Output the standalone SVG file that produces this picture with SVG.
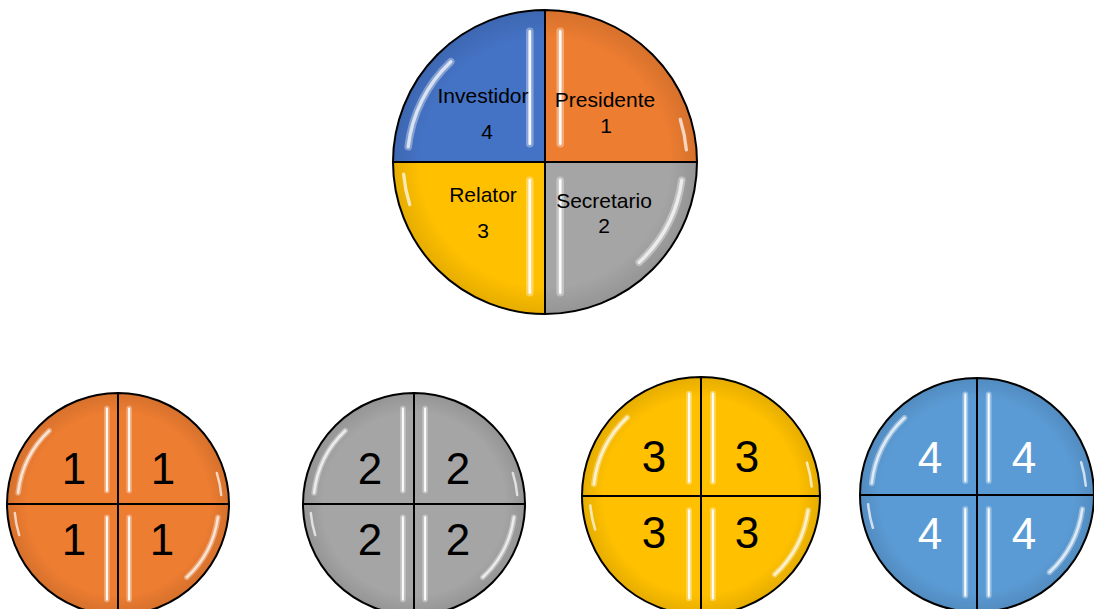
<svg xmlns="http://www.w3.org/2000/svg" width="1094" height="609" viewBox="0 0 1094 609">
<style>
.q{stroke:#000;stroke-width:2;vector-effect:non-scaling-stroke;stroke-linejoin:round}
.or{fill:#ED7D31}.gr{fill:#A5A5A5}.ye{fill:#FFC000}.bl{fill:#4472C4}.lb{fill:#5B9BD5}
.hw{fill:none;stroke:#fff;stroke-width:5;stroke-linecap:round;opacity:.35}
.hs{fill:none;stroke:#fff;stroke-width:1.8;stroke-linecap:round;opacity:.95}
.ha{fill:none;stroke:#fff;stroke-width:2.2;stroke-linecap:round;opacity:.7}
.sh{fill:url(#edge);pointer-events:none}
.lbl{font-family:"Liberation Sans",Arial,sans-serif;font-size:21px;fill:#000;text-anchor:middle}
.big{font-family:"Liberation Sans",Arial,sans-serif;font-size:44px;fill:#000;text-anchor:middle}
.wb{fill:#fff}
</style>
<defs>
<radialGradient id="edge" cx="0" cy="0" r="100" gradientUnits="userSpaceOnUse">
<stop offset="0.82" stop-color="#000" stop-opacity="0"/>
<stop offset="1" stop-color="#000" stop-opacity="0.1"/>
</radialGradient>
<g id="gloss">
<path class="sh" d="M-100,0A100,100 0 1 1 100,0A100,100 0 1 1 -100,0Z"/>
<path class="hw" d="M-10,-86V-12M10,-86V-12M-10,12V86M10,12V86"/>
<path class="hs" d="M-10,-86V-12M10,-86V-12M-10,12V86M10,12V86"/>
<path class="hw" d="M-90,-10A91,91 0 0 1 -62,-66"/>
<path class="ha" d="M-90,-10A91,91 0 0 1 -62,-66"/>
<path class="hw" d="M90,12A91,91 0 0 1 62,66"/>
<path class="ha" d="M90,12A91,91 0 0 1 62,66"/>
<path class="ha" d="M93,-8A94,94 0 0 0 89,-28" opacity=".45"/>
<path class="ha" d="M-93,8A94,94 0 0 0 -89,28" opacity=".45"/>
</g>
</defs>

<g id="main-pie" transform="translate(545,162) scale(1.52)">
<path class="q bl" d="M0,0V-100A100,100 0 0 0 -100,0Z"/>
<path class="q or" d="M0,0H100A100,100 0 0 0 0,-100Z"/>
<path class="q ye" d="M0,0H-100A100,100 0 0 0 0,100Z"/>
<path class="q gr" d="M0,0V100A100,100 0 0 0 100,0Z"/>
<use href="#gloss"/>
</g>
<g id="main-labels">
<text class="lbl" x="483" y="103">Investidor</text>
<text class="lbl" x="487" y="139">4</text>
<text class="lbl" x="605" y="107">Presidente</text>
<text class="lbl" x="606" y="133">1</text>
<text class="lbl" x="483" y="202">Relator</text>
<text class="lbl" x="483" y="238">3</text>
<text class="lbl" x="604" y="208">Secretario</text>
<text class="lbl" x="604" y="233">2</text>
</g>

<g id="pie-1">
<g transform="translate(118,504) scale(1.11)">
<path class="q or" d="M0,0V-100A100,100 0 0 0 -100,0Z"/>
<path class="q or" d="M0,0H100A100,100 0 0 0 0,-100Z"/>
<path class="q or" d="M0,0H-100A100,100 0 0 0 0,100Z"/>
<path class="q or" d="M0,0V100A100,100 0 0 0 100,0Z"/>
<use href="#gloss"/>
</g>
<text class="big" x="74" y="484">1</text>
<text class="big" x="163" y="484">1</text>
<text class="big" x="74" y="555">1</text>
<text class="big" x="162" y="555">1</text>
</g>

<g id="pie-2">
<g transform="translate(414,504) scale(1.11)">
<path class="q gr" d="M0,0V-100A100,100 0 0 0 -100,0Z"/>
<path class="q gr" d="M0,0H100A100,100 0 0 0 0,-100Z"/>
<path class="q gr" d="M0,0H-100A100,100 0 0 0 0,100Z"/>
<path class="q gr" d="M0,0V100A100,100 0 0 0 100,0Z"/>
<use href="#gloss"/>
</g>
<text class="big" x="370" y="484">2</text>
<text class="big" x="458" y="484">2</text>
<text class="big" x="370" y="555">2</text>
<text class="big" x="458" y="555">2</text>
</g>

<g id="pie-3">
<g transform="translate(701,496) scale(1.19)">
<path class="q ye" d="M0,0V-100A100,100 0 0 0 -100,0Z"/>
<path class="q ye" d="M0,0H100A100,100 0 0 0 0,-100Z"/>
<path class="q ye" d="M0,0H-100A100,100 0 0 0 0,100Z"/>
<path class="q ye" d="M0,0V100A100,100 0 0 0 100,0Z"/>
<use href="#gloss"/>
</g>
<text class="big" x="654" y="472">3</text>
<text class="big" x="747" y="472">3</text>
<text class="big" x="654" y="548">3</text>
<text class="big" x="747" y="548">3</text>
</g>

<g id="pie-4">
<g transform="translate(977,495) scale(1.17)">
<path class="q lb" d="M0,0V-100A100,100 0 0 0 -100,0Z"/>
<path class="q lb" d="M0,0H100A100,100 0 0 0 0,-100Z"/>
<path class="q lb" d="M0,0H-100A100,100 0 0 0 0,100Z"/>
<path class="q lb" d="M0,0V100A100,100 0 0 0 100,0Z"/>
<use href="#gloss"/>
</g>
<text class="big wb" x="930" y="473">4</text>
<text class="big wb" x="1024" y="473">4</text>
<text class="big wb" x="930" y="549">4</text>
<text class="big wb" x="1024" y="549">4</text>
</g>
</svg>
